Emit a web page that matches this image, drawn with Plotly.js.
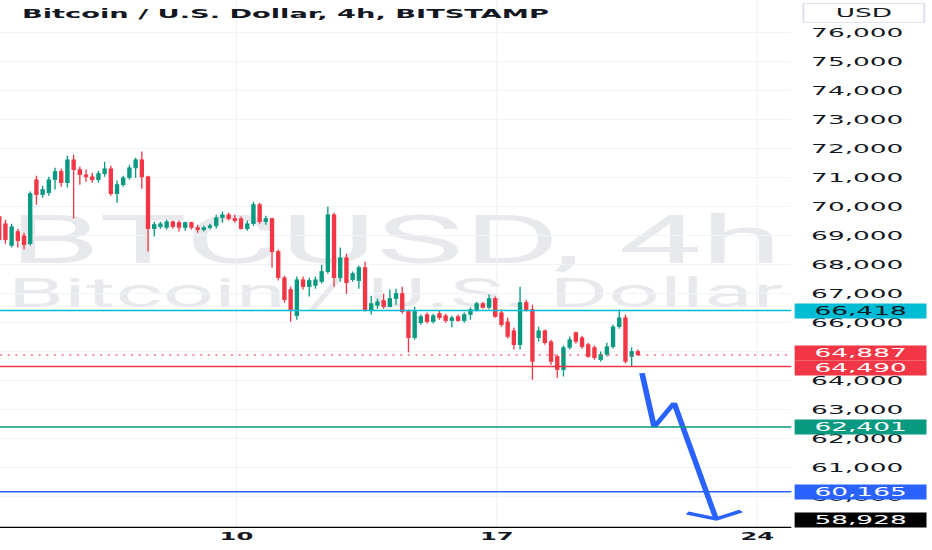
<!DOCTYPE html>
<html><head><meta charset="utf-8">
<script src="https://cdn.plot.ly/plotly-3.0.1.min.js"></script>
<style>
html,body{margin:0;padding:0;background:#fff;overflow:hidden;}
#wrap{width:932px;height:550px;overflow:hidden;}
#chart{width:424px;height:550px;transform:scaleX(2.19811);transform-origin:0 0;}
</style></head><body><div id="wrap"><div id="chart"></div></div>
<script>
// 4h candles, BTC/USD (BITSTAMP), first candle 2024-06-03 15:00 (chart time)
const firstCandle = Date.UTC(2024, 5, 3, 15, 0);
const candleHours = 4;
const opens = [69660,69410,68660,69140,69000,68720,70930,70410,70480,70930,71210,70830,71620,71280,71100,71030,70930,71140,71310,70450,70760,71000,71340,71620,71030,69240,69310,69280,69480,69450,69280,69450,69280,69210,69280,69340,69620,69720,69590,69580,69240,69410,70070,69480,69590,68450,67550,67140,66240,67480,67240,67280,67410,67760,69720,67550,68240,67480,67450,67900,66410,66590,66760,66550,66830,67000,66380,65480,66000,66280,66030,66310,66240,66070,66210,66070,66280,66450,66660,66520,66830,66340,66030,65720,65240,66690,66450,65480,65720,65340,64830,64380,65140,65660,65480,65240,65140,64720,64900,65170,65860,66170,64830,65000];
const highs = [69760,69550,69410,69240,69100,70520,71070,70720,71030,71340,71310,71760,71790,71380,71280,71170,71240,71550,71410,70900,71070,71450,71690,71900,71070,69480,69480,69550,69520,69520,69480,69480,69380,69340,69410,69720,69830,69790,69720,69660,69520,70170,70140,69690,69620,68520,67620,67240,67590,67590,67550,67590,68000,70000,69790,68590,68380,67760,67970,68100,66930,66830,67000,67140,67170,67240,66450,66550,66280,66350,66310,66410,66310,66240,66280,66350,66520,66720,66720,66970,66900,66450,66170,65830,67240,66790,66620,65860,65760,65410,64900,65210,65520,65690,65550,65310,65210,65000,65310,65930,66450,66280,65140,65070];
const lows = [68760,68720,68590,68590,68520,68660,70070,70310,70380,70590,70690,70660,69590,70760,70860,70830,70830,71030,70380,70140,70690,70930,71000,70620,68450,68970,69240,69210,69240,69140,69170,69210,69100,69140,69210,69240,69450,69520,69450,69210,69170,69340,69410,69380,67900,67450,66690,66030,66100,67140,66900,67170,67340,67690,67240,67410,67000,67410,67170,66380,66280,66480,66480,66520,66620,66310,64970,65410,65930,65970,65970,66100,66000,65830,66030,66000,66100,66380,66480,66450,66170,65860,65450,65070,65070,66380,64030,65350,65240,64550,64100,64140,65070,65280,65100,64790,64720,64660,64830,65100,65790,64590,64480,64860];
const closes = [68860,68860,69310,68830,68690,70450,70410,70590,70930,71210,70830,71620,71280,71100,71030,70930,71140,71310,70450,70760,71000,71340,71620,71030,69240,69380,69410,69480,69310,69280,69450,69280,69210,69280,69340,69620,69720,69590,69520,69240,69410,70070,69480,69590,68450,67550,66790,66450,67480,67240,67450,67480,67760,69720,67550,68240,67380,67690,67900,66450,66660,66720,66550,66830,67000,66380,65480,66380,66210,66030,66240,66170,66070,66170,66070,66280,66450,66660,66520,66830,66210,65930,65520,65240,66690,66450,64660,65720,65310,64660,64380,65140,65410,65350,65170,64830,64790,64900,65170,65860,66170,64660,65000,64887];

// horizontal levels drawn on the chart
const levelValues = [66418, 64490, 62401, 60165, 58928];
const levelColors = ['#00bcd4', '#f23645', '#089981', '#2962ff', '#000000'];
const levelTextColors = ['#131722', '#ffffff', '#ffffff', '#ffffff', '#ffffff'];
const lastPrice = 64887;

// hand-drawn projection arrow
const arrowTimes = ['2024-06-20 21:40', '2024-06-21 05:30', '2024-06-21 18:25', '2024-06-22 21:30'];
const arrowPrices = [64260, 62400, 63230, 59225];
const headTimes = ['2024-06-22 02:50', '2024-06-22 21:30', '2024-06-23 13:40'];
const headPrices = [59430, 59225, 59500];

// axes
const xTickVals = ['2024-06-10', '2024-06-17', '2024-06-24'];
const xTickText = ['10', '17', '24'];
const yTickVals = [60000,61000,62000,63000,64000,65000,66000,67000,68000,69000,70000,71000,72000,73000,74000,75000,76000];
const xRange = ['2024-06-03 15:30', '2024-06-24 22:00'];
const yRange = [58915, 77131];

function fmt(d) {
  const p = n => String(n).padStart(2, '0');
  return d.getUTCFullYear() + '-' + p(d.getUTCMonth() + 1) + '-' + p(d.getUTCDate()) + ' ' + p(d.getUTCHours()) + ':' + p(d.getUTCMinutes());
}
const times = opens.map((_, i) => fmt(new Date(firstCandle + i * candleHours * 3600000)));

const UP = '#089981', DOWN = '#f23645';
const traces = [
  {
    type: 'candlestick', x: times, open: opens, high: highs, low: lows, close: closes,
    increasing: { line: { color: UP, width: 0.6 }, fillcolor: UP },
    decreasing: { line: { color: DOWN, width: 0.6 }, fillcolor: DOWN },
    whiskerwidth: 0, hoverinfo: 'skip', showlegend: false
  },
  { type: 'scatter', mode: 'lines', x: arrowTimes, y: arrowPrices,
    line: { color: '#2962ff', width: 2.6 }, hoverinfo: 'skip', showlegend: false },
  { type: 'scatter', mode: 'lines', x: headTimes, y: headPrices,
    line: { color: '#2962ff', width: 3.2 }, hoverinfo: 'skip', showlegend: false }
];

const shapes = [
  { type: 'rect', layer: 'below', xref: 'paper', yref: 'paper', x0: 0, x1: 1, y0: 0.505, y1: 0.605,
    line: { width: 0 }, fillcolor: 'rgba(0,0,0,0)',
    label: { text: 'BTCUSD, 4h', textposition: 'middle center', font: { family: 'Roboto', size: 67, color: '#e8e9ec' } } },
  { type: 'rect', layer: 'below', xref: 'paper', yref: 'paper', x0: 0, x1: 1, y0: 0.405, y1: 0.495,
    line: { width: 0 }, fillcolor: 'rgba(0,0,0,0)',
    label: { text: 'Bitcoin / U.S. Dollar', textposition: 'middle center', font: { family: 'Roboto', size: 41, color: '#e8e9ec' } } },
  { type: 'line', xref: 'paper', yref: 'y', x0: 0, x1: 1, y0: lastPrice, y1: lastPrice,
    line: { color: DOWN, width: 1, dash: '1px,2.5px' } }
];
levelValues.forEach((v, i) => {
  shapes.push({ type: 'line', xref: 'paper', yref: 'y', x0: 0, x1: 1, y0: v, y1: v,
    line: { color: levelColors[i], width: 1.5 } });
});

const labelFont = { family: 'DejaVu Sans', size: 12 };
const annotations = [];
function priceLabel(v, bg, fg, anchor, yshift) {
  annotations.push({ xref: 'paper', yref: 'y', x: 1, y: v, xanchor: 'left', yanchor: anchor || 'middle',
    xshift: 1, yshift: yshift || 0, text: v.toLocaleString('en-US'), showarrow: false, bgcolor: bg,
    width: 57, height: 12, borderpad: 1, align: 'center',
    font: Object.assign({ color: fg }, labelFont) });
}
priceLabel(lastPrice, DOWN, '#ffffff', 'middle', 2);
levelValues.forEach((v, i) => priceLabel(v, levelColors[i], levelTextColors[i],
  i === levelValues.length - 1 ? 'bottom' : 'middle', i === 1 ? -1.8 : 0));
annotations.push({ xref: 'paper', yref: 'paper', x: 1, y: 1, xanchor: 'left', yanchor: 'top', xshift: 5, yshift: -3,
  text: 'USD', showarrow: false, bgcolor: '#ffffff', bordercolor: '#e0e3eb', borderwidth: 1,
  width: 52, height: 16, borderpad: 1, font: { family: 'DejaVu Sans', size: 12, color: '#131722' } });

const layout = {
  width: 424, height: 550,
  margin: { l: 0, r: 64, t: 0, b: 22 },
  paper_bgcolor: '#ffffff', plot_bgcolor: '#ffffff', showlegend: false,
  title: { text: 'Bitcoin / U.S. Dollar, 4h, BITSTAMP', xref: 'container', yref: 'container',
    x: 10 / 424, xanchor: 'left', y: 1 - 14 / 550, yanchor: 'middle',
    font: { family: 'DejaVu Sans', size: 12.4, weight: 700, color: '#131722' } },
  xaxis: { type: 'date', range: xRange, tickvals: xTickVals, ticktext: xTickText,
    showgrid: true, gridcolor: '#eef0f5', gridwidth: 0.5, zeroline: false, showline: false, ticks: '',
    tickfont: { family: 'DejaVu Sans', size: 11, weight: 700, color: '#131722' },
    rangeslider: { visible: false }, fixedrange: true },
  yaxis: { side: 'right', range: yRange, tickvals: yTickVals, tickformat: ',d',
    showgrid: true, gridcolor: '#f0f3fa', zeroline: false, showline: false, ticks: '',
    ticklabelstandoff: 8, tickfont: { family: 'DejaVu Sans', size: 12, color: '#131722' }, fixedrange: true },
  shapes: shapes, annotations: annotations
};

Plotly.newPlot('chart', traces, layout, { staticPlot: true, displayModeBar: false });
</script></body></html>
